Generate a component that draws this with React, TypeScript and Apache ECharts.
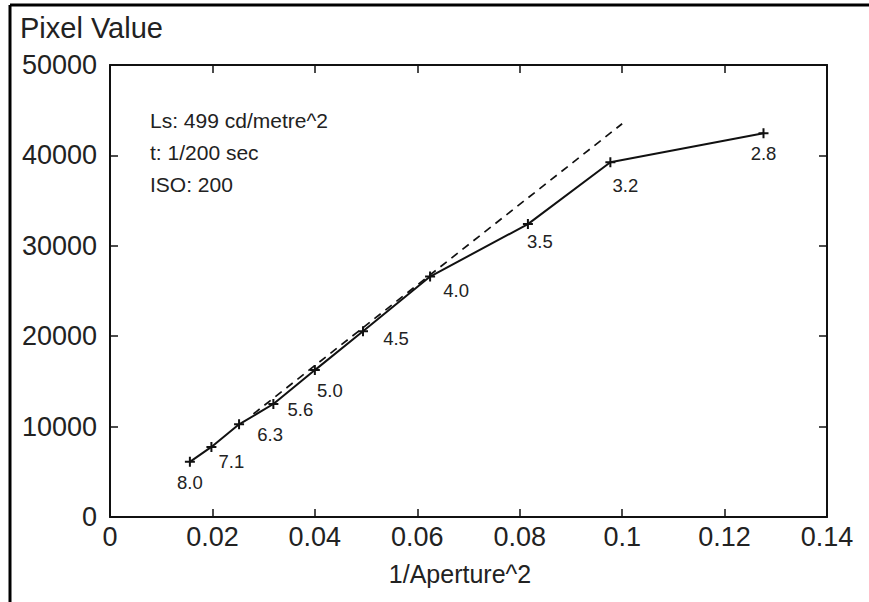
import React, { useEffect, useRef } from "react";
import * as echarts from "echarts";

const fNumbers = ["8.0", "7.1", "6.3", "5.6", "5.0", "4.5", "4.0", "3.5", "3.2", "2.8"];
const xValues = [0.0156, 0.0198, 0.0252, 0.0319, 0.04, 0.0494, 0.0625, 0.0816, 0.0977, 0.1276];
const pixelValues = [6100, 7750, 10250, 12500, 16250, 20550, 26600, 32400, 39250, 42450];
const fitLine = [
  [0.028, 11400],
  [0.1, 43500],
];
const xTicks = [0, 0.02, 0.04, 0.06, 0.08, 0.1, 0.12, 0.14];
const yTicks = [0, 10000, 20000, 30000, 40000, 50000];
const notes = ["Ls: 499 cd/metre^2", "t: 1/200 sec", "ISO: 200"];

// label offsets (px) relative to each marker
const labelOffsets = [
  [0, 21],
  [20, 15],
  [31, 10],
  [27, 5],
  [15, 20],
  [33, 7],
  [26, 14],
  [12, 17],
  [15, 23],
  [0, 20],
];

const FONT = "'Liberation Sans', Arial, Helvetica, sans-serif";
const INK = "#111";
const TXT = "#222";

export default function App() {
  const ref = useRef<HTMLDivElement>(null);
  useEffect(() => {
    document.body.style.margin = "0";
    const chart = echarts.init(ref.current!, null, { renderer: "svg" });
    const tickFmt = (v: number) => String(parseFloat(Number(v).toFixed(2)));
    const plus = "path://M4,0 H6 V4 H10 V6 H6 V10 H4 V6 H0 V4 H4 Z";
    const axisCommon = {
      type: "value" as const,
      axisLine: { show: true, onZero: false, lineStyle: { color: INK, width: 2 } },
      axisTick: { show: true, inside: true, length: 8, lineStyle: { color: INK, width: 1.5 } },
      splitLine: { show: false },
    };
    chart.setOption({
      animation: false,
      backgroundColor: "#fff",
      textStyle: { fontFamily: FONT },
      grid: { left: 110, top: 65, right: 42, bottom: 85, containLabel: false },
      xAxis: [
        {
          ...axisCommon,
          min: xTicks[0],
          max: xTicks[xTicks.length - 1],
          interval: 0.02,
          position: "bottom",
          axisLabel: { show: true, color: TXT, fontSize: 27, margin: 6, formatter: tickFmt, fontFamily: FONT },
        },
        {
          ...axisCommon,
          min: xTicks[0],
          max: xTicks[xTicks.length - 1],
          interval: 0.02,
          position: "top",
          axisLabel: { show: false },
        },
      ],
      yAxis: [
        {
          ...axisCommon,
          min: yTicks[0],
          max: yTicks[yTicks.length - 1],
          interval: 10000,
          position: "left",
          axisLabel: { show: true, color: TXT, fontSize: 27, margin: 13, formatter: (v: number) => String(v), fontFamily: FONT },
        },
        {
          ...axisCommon,
          min: yTicks[0],
          max: yTicks[yTicks.length - 1],
          interval: 10000,
          position: "right",
          axisLabel: { show: false },
        },
      ],
      series: [
        {
          type: "line",
          data: fitLine,
          symbol: "none",
          lineStyle: { color: INK, width: 1.7, type: [8, 6] },
          silent: true,
        },
        {
          type: "line",
          data: xValues.map((x, i) => ({
            value: [x, pixelValues[i]],
            label: {
              show: true,
              formatter: fNumbers[i],
              position: "inside",
              offset: labelOffsets[i],
              color: TXT,
              fontSize: 18.5,
              fontFamily: FONT,
            },
          })),
          symbol: plus,
          symbolSize: 10,
          itemStyle: { color: INK },
          lineStyle: { color: INK, width: 2 },
        },
      ],
      graphic: [
        { type: "line", shape: { x1: 10, y1: 5, x2: 869, y2: 5 }, style: { stroke: "#000", lineWidth: 3 } },
        { type: "line", shape: { x1: 10, y1: 5, x2: 10, y2: 602 }, style: { stroke: "#000", lineWidth: 3 } },
        {
          type: "text",
          x: 20,
          y: 28,
          style: { text: "Pixel Value", fill: TXT, font: `29px ${FONT}`, textVerticalAlign: "middle" },
        },
        {
          type: "text",
          x: 460,
          y: 574,
          style: { text: "1/Aperture^2", fill: TXT, font: `25px ${FONT}`, textAlign: "center", textVerticalAlign: "middle" },
        },
        {
          type: "text",
          x: 150,
          y: 104,
          style: { text: notes.join("\n"), fill: TXT, font: `21px ${FONT}`, lineHeight: 32 },
        },
      ],
    });
    return () => chart.dispose();
  }, []);
  return <div ref={ref} style={{ width: 869, height: 602 }} />;
}
